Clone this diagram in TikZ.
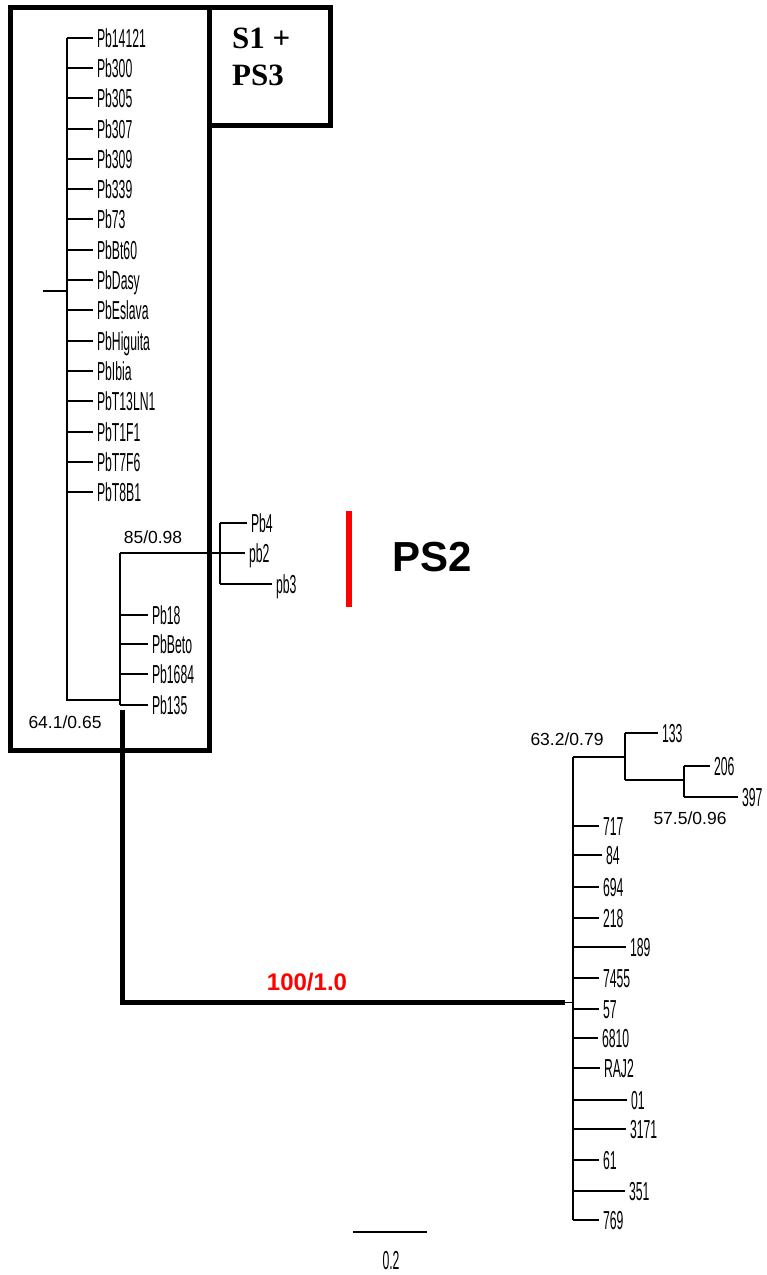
\documentclass[tikz,border=0pt]{standalone}
\usepackage{fontspec}
\setmainfont{Liberation Sans}
\newfontfamily\narrowsf[FakeStretch=0.47]{Liberation Sans}
\newfontfamily\boldserif{Liberation Serif}
\usetikzlibrary{positioning, calc}
\definecolor{CladeRed}{RGB}{255,0,0}

\begin{document}
\begin{tikzpicture}[x=1pt,y=-1pt,
        br/.style={draw=black,line width=1.4pt},
        thk/.style={draw=black,line width=5pt},
        bx/.style={draw=black,line width=5pt},
        lf/.style={anchor=west,inner xsep=4pt,inner ysep=0pt,outer sep=0pt,
                   font=\narrowsf\fontsize{26}{26}\selectfont,
                   text height=18.5pt,text depth=0pt},
        supp/.style={inner sep=0pt,font=\fontsize{17.5}{17.5}\selectfont}
      ]
        \useasboundingbox (0,0) rectangle (767,1275);
        % internal points
        \coordinate (root) at (43,291);
        \coordinate (s1t) at (67,38);
        \coordinate (s1b) at (67,700);
        \coordinate (s2t) at (120,553);
        \coordinate (s2b) at (120,705);
        \coordinate (p2t) at (220,523);
        \coordinate (p2b) at (220,584);
        \coordinate (base) at (122.5,710);
        \coordinate (bend) at (122.5,1002.5);
        \coordinate (tend) at (565,1002.5);
        \coordinate (r1t) at (573,757);
        \coordinate (r1b) at (573,1220);
        \coordinate (q1) at (625,757);
        \coordinate (q1t) at (625,733);
        \coordinate (q1b) at (625,780);
        \coordinate (q2) at (684,780);
        \coordinate (q2t) at (684,766);
        \coordinate (q2b) at (684,797);
        % S1 + PS3 leaves
        \node[lf] (pb14121) at (93,38) {Pb14121};
        \node[lf] (pb300) at (93,68) {Pb300};
        \node[lf] (pb305) at (93,98) {Pb305};
        \node[lf] (pb307) at (93,129) {Pb307};
        \node[lf] (pb309) at (93,159) {Pb309};
        \node[lf] (pb339) at (93,189) {Pb339};
        \node[lf] (pb73) at (93,219) {Pb73};
        \node[lf] (pbbt60) at (93,250) {PbBt60};
        \node[lf] (pbdasy) at (93,280) {PbDasy};
        \node[lf] (pbeslava) at (93,310) {PbEslava};
        \node[lf] (pbhiguita) at (93,341) {PbHiguita};
        \node[lf] (pbibia) at (93,371) {PbIbia};
        \node[lf] (pbt13ln1) at (93,401) {PbT13LN1};
        \node[lf] (pbt1f1) at (93,432) {PbT1F1};
        \node[lf] (pbt7f6) at (93,462) {PbT7F6};
        \node[lf] (pbt8b1) at (93,492) {PbT8B1};
        \node[lf] (pb18) at (148,615) {Pb18};
        \node[lf] (pbbeto) at (148,644) {PbBeto};
        \node[lf] (pb1684) at (148,674) {Pb1684};
        \node[lf] (pb135) at (148,705) {Pb135};
        % PS2 leaves
        \node[lf] (pb4) at (247,523) {Pb4};
        \node[lf] (pb2) at (245,553) {pb2};
        \node[lf] (pb3) at (272,584) {pb3};
        % right clade leaves
        \node[lf] (n133) at (658,733) {133};
        \node[lf] (n206) at (710,766) {206};
        \node[lf] (n397) at (738,797) {397};
        \node[lf] (n717) at (599,826) {717};
        \node[lf] (n84) at (602,855) {84};
        \node[lf] (n694) at (599,887) {694};
        \node[lf] (n218) at (599,918) {218};
        \node[lf] (n189) at (626,947) {189};
        \node[lf] (n7455) at (599,978) {7455};
        \node[lf] (n57) at (599,1009) {57};
        \node[lf] (n6810) at (598,1038) {6810};
        \node[lf] (nraj2) at (600,1068) {RAJ2};
        \node[lf] (n01) at (627,1100) {01};
        \node[lf] (n3171) at (626,1129) {3171};
        \node[lf] (n61) at (599,1160) {61};
        \node[lf] (n351) at (625,1191) {351};
        \node[lf] (n769) at (599,1220) {769};
        % branches
        \draw[br] (root) -- (root -| s1t);
        \draw[br] (s1t) -- (s1b) -- (s1b -| s2t);
        \draw[br] (s1t) -- (pb14121);
        \draw[br] (s1t |- pb300) -- (pb300);
        \draw[br] (s1t |- pb305) -- (pb305);
        \draw[br] (s1t |- pb307) -- (pb307);
        \draw[br] (s1t |- pb309) -- (pb309);
        \draw[br] (s1t |- pb339) -- (pb339);
        \draw[br] (s1t |- pb73) -- (pb73);
        \draw[br] (s1t |- pbbt60) -- (pbbt60);
        \draw[br] (s1t |- pbdasy) -- (pbdasy);
        \draw[br] (s1t |- pbeslava) -- (pbeslava);
        \draw[br] (s1t |- pbhiguita) -- (pbhiguita);
        \draw[br] (s1t |- pbibia) -- (pbibia);
        \draw[br] (s1t |- pbt13ln1) -- (pbt13ln1);
        \draw[br] (s1t |- pbt1f1) -- (pbt1f1);
        \draw[br] (s1t |- pbt7f6) -- (pbt7f6);
        \draw[br] (s1t |- pbt8b1) -- (pbt8b1);
        \draw[br] (s2t) -- (s2b);
        \draw[br] (s2t |- pb18) -- (pb18);
        \draw[br] (s2t |- pbbeto) -- (pbbeto);
        \draw[br] (s2t |- pb1684) -- (pb1684);
        \draw[br] (s2b) -- (pb135);
        \draw[br] (s2t) -- (pb2);
        \draw[br] (p2t) -- (p2b);
        \draw[br] (p2t) -- (pb4);
        \draw[br] (p2b) -- (pb3);
        \draw[thk] (base) -- (bend) -- (tend);
        \draw[br] (tend) -- (tend -| r1t);
        \draw[br] (r1t) -- (r1b);
        \draw[br] (r1t) -- (q1);
        \draw[br] (q1t) -- (q1b);
        \draw[br] (q1t) -- (n133);
        \draw[br] (q1b) -- (q2);
        \draw[br] (q2t) -- (q2b);
        \draw[br] (q2t) -- (n206);
        \draw[br] (q2b) -- (n397);
        \draw[br] (r1t |- n717) -- (n717);
        \draw[br] (r1t |- n84) -- (n84);
        \draw[br] (r1t |- n694) -- (n694);
        \draw[br] (r1t |- n218) -- (n218);
        \draw[br] (r1t |- n189) -- (n189);
        \draw[br] (r1t |- n7455) -- (n7455);
        \draw[br] (r1t |- n57) -- (n57);
        \draw[br] (r1t |- n6810) -- (n6810);
        \draw[br] (r1t |- nraj2) -- (nraj2);
        \draw[br] (r1t |- n01) -- (n01);
        \draw[br] (r1t |- n3171) -- (n3171);
        \draw[br] (r1t |- n61) -- (n61);
        \draw[br] (r1t |- n351) -- (n351);
        \draw[br] (r1b) -- (n769);
        % support values
        \node[supp] (b85) at (153,537) {85/0.98};
        \node[supp] (b64) at (65,722) {64.1/0.65};
        \node[supp] (b63) at (567,739) {63.2/0.79};
        \node[supp] (b57) at (690,818) {57.5/0.96};
        \node[inner sep=0pt,text=CladeRed,font=\bfseries\fontsize{24}{24}\selectfont]
          (b100) at (307,982.5) {100/1.0};
        % clade boxes and labels
        \draw[bx] (10.5,7.5) rectangle (209.5,750);
        \draw[bx] (209.5,7.5) rectangle (330.5,125);
        \node[anchor=north west,inner sep=0pt,align=left,
              font=\boldserif\bfseries\fontsize{31}{37}\selectfont]
          (s1lab) at (232,28) {S1 +\\PS3};
        \coordinate (ps2t) at (348.5,511);
        \coordinate (ps2b) at (348.5,607);
        \draw[CladeRed,line width=6pt] (ps2t) -- (ps2b);
        \node[inner sep=0pt,font=\bfseries\fontsize{42}{42}\selectfont]
          (ps2lab) at (432.5,557.5) {PS2};
        % scale bar
        \coordinate (sb1) at (353,1232);
        \coordinate (sb2) at (427,1232);
        \draw[br] (sb1) -- (sb2);
        \node[inner sep=0pt,font=\narrowsf\fontsize{26}{26}\selectfont]
          (sblab) at (391,1261) {0.2};
      \end{tikzpicture}
\end{document}
